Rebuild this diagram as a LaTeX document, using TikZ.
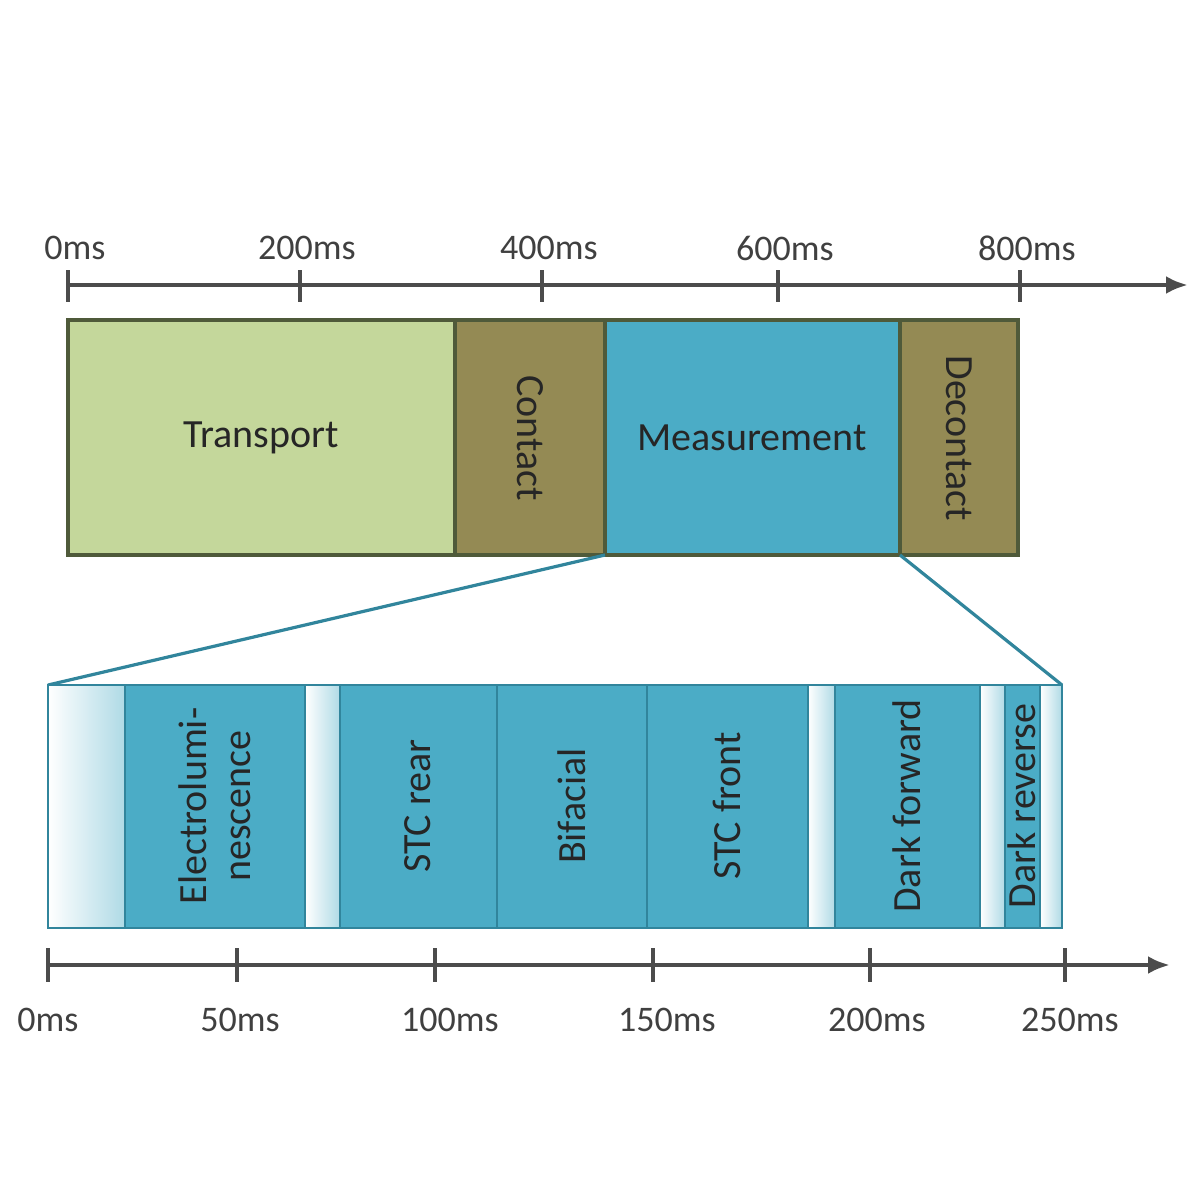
\documentclass[tikz,border=0pt]{standalone}
\usepackage{fontspec}
\setmainfont{Carlito}
\usetikzlibrary{arrows.meta}
\definecolor{lgreen}{HTML}{C4D79B}
\definecolor{olive}{HTML}{948A54}
\definecolor{mblue}{HTML}{4BACC6}
\definecolor{edge}{HTML}{4F5A3A}
\definecolor{bedge}{HTML}{31859C}
\definecolor{lstrip}{HTML}{DAEEF3}
\begin{document}
\begin{tikzpicture}[x=0.5pt,y=-0.5pt,
 lbl/.style={font=\fontsize{20}{22}\selectfont,text=black!85},
 tlbl/.style={font=\fontsize{18}{20}\selectfont,text=black!75},
 axis/.style={line width=2.2pt,draw=black!70,-{Latex[length=11pt,width=9pt]}},
 tick/.style={line width=2.2pt,draw=black!70},
 blk/.style={draw=edge,line width=1.6pt},
 sblk/.style={draw=bedge,line width=1.2pt,fill=mblue},
 light/.style={draw=bedge,line width=1.2pt,left color=white,right color=lstrip!70!mblue}]
\useasboundingbox (0,0) rectangle (1200,1200);
% top axis
\coordinate (ta0) at (68,285); \coordinate (ta1) at (1188,285);
\draw[axis] (ta0) -- (ta1);
\foreach \x/\t in {68/0ms,300/200ms,542/400ms,778/600ms,1020/800ms}{
 \draw[tick] (\x,270) -- (\x,302);
 \node[tlbl] at (\x+7,248) {\t};}
% top bar
\fill[lgreen] (68,320) rectangle (455,555);
\fill[olive] (455,320) rectangle (605,555);
\fill[mblue] (605,320) rectangle (900,555);
\fill[olive] (900,320) rectangle (1018,555);
\draw[blk] (68,320) rectangle (1018,555);
\draw[blk] (455,320) -- (455,555) (605,320) -- (605,555) (900,320) -- (900,555);
\node[lbl] (tr) at (261,438) {Transport};
\node[lbl,rotate=-90] (co) at (530,438) {Contact};
\node[lbl] (me) at (752,438) {Measurement};
\node[lbl,rotate=-90] (de) at (959,438) {Decontact};
% zoom lines
\coordinate (z1) at (605,555); \coordinate (z2) at (900,555);
\coordinate (z3) at (48,685); \coordinate (z4) at (1062,685);
\draw[bedge,line width=1.6pt] (z1) -- (z3) (z2) -- (z4);
% bottom bar
\foreach \a/\b in {48/125,305/340,808/835,980/1005,1040/1062}{
 \draw[light] (\a,685) rectangle (\b,928);}
\foreach \a/\b in {125/305,340/497,497/647,647/808,835/980,1005/1040}{
 \draw[sblk] (\a,685) rectangle (\b,928);}
\node[lbl,rotate=90,align=center] (el) at (215,806) {Electrolumi-\\nescence};
\node[lbl,rotate=90] (sr) at (418,806) {STC rear};
\node[lbl,rotate=90] (bf) at (572,806) {Bifacial};
\node[lbl,rotate=90] (sf) at (727,806) {STC front};
\node[lbl,rotate=90] (df) at (907,806) {Dark forward};
\node[lbl,rotate=90] (dr) at (1022,806) {Dark reverse};
% bottom axis
\coordinate (ba0) at (48,965); \coordinate (ba1) at (1170,965);
\draw[axis] (ba0) -- (ba1);
\foreach \x/\t in {48/0ms,237/50ms,435/100ms,653/150ms,870/200ms,1065/250ms}{
 \draw[tick] (\x,948) -- (\x,982);}
\foreach \x/\t in {48/0ms,240/50ms,450/100ms,667/150ms,877/200ms,1070/250ms}{
 \node[tlbl] at (\x,1020) {\t};}
\end{tikzpicture}
\end{document}
